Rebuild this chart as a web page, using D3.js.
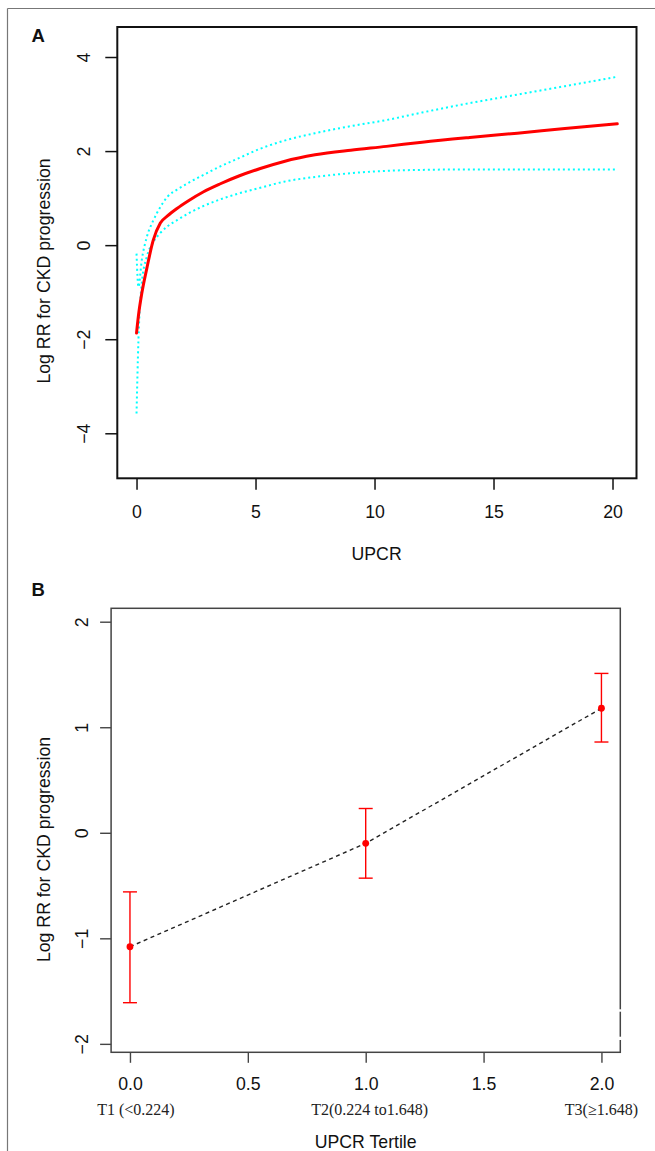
<!DOCTYPE html>
<html>
<head>
<meta charset="utf-8">
<script src="https://cdn.jsdelivr.net/npm/d3@7"></script>
<style>
  body { margin: 0; background: #fff; }
  svg { display: block; }
  text { font-family: "Liberation Sans", Arial, sans-serif; }
</style>
</head>
<body>
<svg id="chart"></svg>
<script>
// Panel A: restricted cubic spline of UPCR
const upcr = [0, 0.08, 0.22, 0.43, 0.7, 1.0, 1.3, 1.7, 2.2, 2.8, 3.5, 4.3, 5.2, 6.2, 7.5, 9, 10.5, 12, 14, 16, 18, 20.2];
const rrEst = [-1.87, -1.5, -1.03, -0.5, 0.1, 0.47, 0.62, 0.78, 0.95, 1.13, 1.3, 1.47, 1.63, 1.78, 1.92, 2.02, 2.1, 2.19, 2.29, 2.38, 2.48, 2.58];
const rrUpper = [-0.18, -0.89, -0.32, 0.17, 0.52, 0.81, 1.03, 1.18, 1.33, 1.49, 1.67, 1.85, 2.05, 2.22, 2.38, 2.53, 2.66, 2.82, 3.02, 3.2, 3.38, 3.58];
const rrLower = [-3.58, -2.02, -0.81, -0.25, 0.06, 0.26, 0.4, 0.53, 0.68, 0.83, 0.97, 1.1, 1.22, 1.35, 1.45, 1.53, 1.58, 1.6, 1.61, 1.61, 1.61, 1.61];
const ticksAx = [0, 5, 10, 15, 20];
const ticksAy = [-4, -2, 0, 2, 4];

// Panel B: tertiles
const tertile = [0, 1, 2];
const tertileLabels = ["T1 (<0.224)", "T2(0.224 to1.648)", "T3(\u22651.648)"];
const tertEst = [-1.08, -0.10, 1.18];
const tertLower = [-1.61, -0.43, 0.86];
const tertUpper = [-0.56, 0.23, 1.51];
const ticksBx = [0, 0.5, 1, 1.5, 2];
const ticksBy = [-2, -1, 0, 1, 2];

const W = 655, H = 1151;
const FS = 17.7;
const svg = d3.select("#chart").attr("width", W).attr("height", H);

// outer figure frame
svg.append("line").attr("x1", 7.5).attr("y1", 8.5).attr("x2", W).attr("y2", 8.5)
  .attr("stroke", "#777").attr("stroke-width", 1.2);
svg.append("line").attr("x1", 7.5).attr("y1", 8.5).attr("x2", 7.5).attr("y2", H)
  .attr("stroke", "#777").attr("stroke-width", 1.2);

const fmtMinus = d => (d < 0 ? "\u2212" : "") + Math.abs(d);

// ---------- Panel A ----------
const xA = d3.scaleLinear().domain([-0.808, 21.008]).range([117.3, 636.5]);
const yA = d3.scaleLinear().domain([-4.957, 4.638]).range([478.3, 27]);

const gA = svg.append("g");

const lineA = (ys) => d3.line()
  .x((d, i) => xA(upcr[i]))
  .y(d => yA(d))
  .curve(d3.curveMonotoneX)(ys);

gA.append("path").attr("d", lineA(rrUpper))
  .attr("fill", "none").attr("stroke", "#00ffff").attr("stroke-width", 2)
  .attr("stroke-dasharray", "2,3");
gA.append("path").attr("d", lineA(rrLower))
  .attr("fill", "none").attr("stroke", "#00ffff").attr("stroke-width", 2)
  .attr("stroke-dasharray", "2,3");
gA.append("path").attr("d", lineA(rrEst))
  .attr("fill", "none").attr("stroke", "#ff0000").attr("stroke-width", 3)
  .attr("stroke-linecap", "round");

gA.append("rect")
  .attr("x", xA.range()[0]).attr("y", yA.range()[1])
  .attr("width", xA.range()[1] - xA.range()[0])
  .attr("height", yA.range()[0] - yA.range()[1])
  .attr("fill", "none").attr("stroke", "#111").attr("stroke-width", 2);

const axAx = gA.append("g").attr("transform", `translate(0,${yA.range()[0]})`)
  .call(d3.axisBottom(xA).tickValues(ticksAx).tickSize(11.5).tickFormat(d3.format("d")));
axAx.select(".domain").remove();
axAx.selectAll("line").attr("stroke", "#111").attr("stroke-width", 1.5);
axAx.selectAll("text").attr("y", 40.2).attr("dy", 0)
  .attr("font-size", FS).attr("fill", "#111");

const axAy = gA.append("g").attr("transform", `translate(${xA.range()[0]},0)`)
  .call(d3.axisLeft(yA).tickValues(ticksAy).tickSize(12).tickFormat(fmtMinus));
axAy.select(".domain").remove();
axAy.selectAll("line").attr("stroke", "#111").attr("stroke-width", 1.5);
axAy.selectAll("text")
  .attr("x", 0).attr("dy", 0)
  .attr("transform", "translate(-27.3,0) rotate(-90)")
  .attr("text-anchor", "middle")
  .attr("font-size", FS).attr("fill", "#111");

gA.append("text").attr("x", 376.6).attr("y", 560)
  .attr("text-anchor", "middle").attr("font-size", FS).attr("fill", "#111")
  .text("UPCR");
gA.append("text").attr("transform", "translate(50,271) rotate(-90)")
  .attr("text-anchor", "middle").attr("font-size", FS).attr("fill", "#111")
  .text("Log RR for CKD progression");
gA.append("text").attr("x", 31.5).attr("y", 42)
  .attr("font-size", 18.5).attr("font-weight", "bold").attr("fill", "#111")
  .text("A");

// ---------- Panel B ----------
const xB = d3.scaleLinear().domain([-0.08, 2.08]).range([111.1, 620.3]);
const yB = d3.scaleLinear().domain([-2.08, 2.127]).range([1052.3, 608.3]);

const gB = svg.append("g");
const grey = "#444";

gB.append("path")
  .attr("d", d3.line().x((d, i) => xB(tertile[i])).y(d => yB(d))(tertEst))
  .attr("fill", "none").attr("stroke", "#222").attr("stroke-width", 1.4)
  .attr("stroke-dasharray", "4,3.5");

const bars = gB.selectAll("g.err").data(tertile).enter().append("g").attr("class", "err");
bars.append("line")
  .attr("x1", d => xB(d)).attr("x2", d => xB(d))
  .attr("y1", (d, i) => yB(tertUpper[i])).attr("y2", (d, i) => yB(tertLower[i]))
  .attr("stroke", "#ff0000").attr("stroke-width", 1.4);
[tertUpper, tertLower].forEach(arr => {
  bars.append("line")
    .attr("x1", d => xB(d) - 7).attr("x2", d => xB(d) + 7)
    .attr("y1", (d, i) => yB(arr[i])).attr("y2", (d, i) => yB(arr[i]))
    .attr("stroke", "#ff0000").attr("stroke-width", 1.4);
});
bars.append("circle")
  .attr("cx", d => xB(d)).attr("cy", (d, i) => yB(tertEst[i]))
  .attr("r", 3.4).attr("fill", "#ff0000");

gB.append("rect")
  .attr("x", xB.range()[0]).attr("y", yB.range()[1])
  .attr("width", xB.range()[1] - xB.range()[0])
  .attr("height", yB.range()[0] - yB.range()[1])
  .attr("fill", "none").attr("stroke", grey).attr("stroke-width", 1.5);
// small breaks in the right border as in the scanned figure
[[1009.3, 2.4], [1036.7, 3.3]].forEach(([y0, h]) => {
  gB.append("rect").attr("x", xB.range()[1] - 1.5).attr("y", y0)
    .attr("width", 3).attr("height", h).attr("fill", "#fff");
});

const axBx = gB.append("g").attr("transform", `translate(0,${yB.range()[0]})`)
  .call(d3.axisBottom(xB).tickValues(ticksBx).tickSize(10.5).tickFormat(d3.format(".1f")));
axBx.select(".domain").remove();
axBx.selectAll("line").attr("stroke", grey).attr("stroke-width", 1.4);
axBx.selectAll("text").attr("y", 38.2).attr("dy", 0)
  .attr("font-size", FS).attr("fill", "#111");

gB.selectAll("text.tert").data(tertile).enter().append("text")
  .attr("class", "tert")
  .attr("x", d => xB(d) + (d === 0 ? 6 : d === 1 ? 4 : 0)).attr("y", 1114.5)
  .attr("text-anchor", "middle")
  .style("font-family", "'Liberation Serif', 'Times New Roman', serif")
  .attr("font-size", 16).attr("fill", "#222")
  .text((d, i) => tertileLabels[i]);

const axBy = gB.append("g").attr("transform", `translate(${xB.range()[0]},0)`)
  .call(d3.axisLeft(yB).tickValues(ticksBy).tickSize(11).tickFormat(fmtMinus));
axBy.select(".domain").remove();
axBy.selectAll("line").attr("stroke", grey).attr("stroke-width", 1.4);
axBy.selectAll("text")
  .attr("x", 0).attr("dy", 0)
  .attr("transform", "translate(-23,0) rotate(-90)")
  .attr("text-anchor", "middle")
  .attr("font-size", FS).attr("fill", "#111");

gB.append("text").attr("x", 365.7).attr("y", 1148)
  .attr("text-anchor", "middle").attr("font-size", FS).attr("fill", "#111")
  .text("UPCR Tertile");
gB.append("text").attr("transform", "translate(50,849.5) rotate(-90)")
  .attr("text-anchor", "middle").attr("font-size", FS).attr("fill", "#111")
  .text("Log RR for CKD progression");
gB.append("text").attr("x", 31.5).attr("y", 596)
  .attr("font-size", 18.5).attr("font-weight", "bold").attr("fill", "#111")
  .text("B");
</script>
</body>
</html>
